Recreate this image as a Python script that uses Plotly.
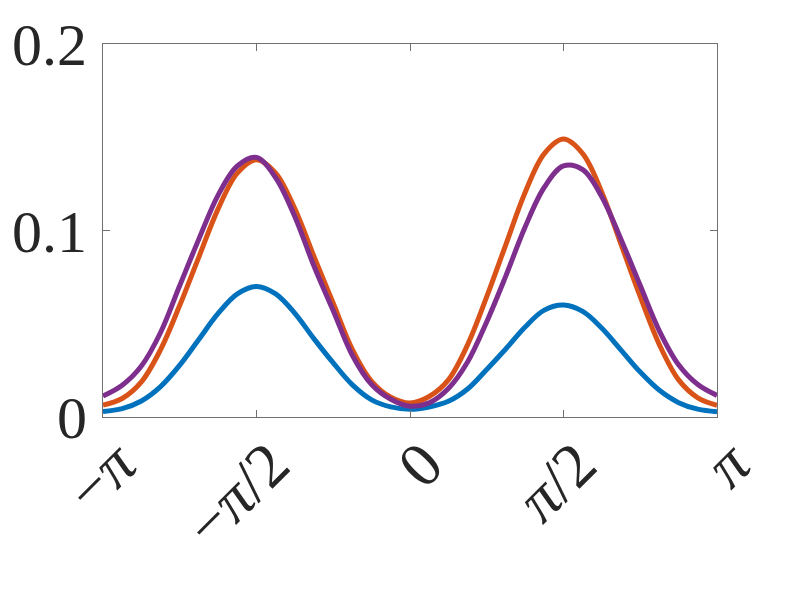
import numpy as np
import plotly.graph_objects as go

# x grid: -pi .. pi in steps of pi/16
x = np.linspace(-np.pi, np.pi, 33)

blue = [0.0030, 0.0045, 0.0086, 0.0163, 0.0278, 0.0417, 0.0555, 0.0660, 0.0700,
        0.0660, 0.0556, 0.0419, 0.0290, 0.0172, 0.0092, 0.0054, 0.0042,
        0.0054, 0.0084, 0.0150, 0.0255, 0.0366, 0.0483, 0.0573, 0.0600,
        0.0566, 0.0476, 0.0359, 0.0241, 0.0143, 0.0077, 0.0042, 0.0028]

orange = [0.0064, 0.0099, 0.0188, 0.0361, 0.0599, 0.0859, 0.1116, 0.1308, 0.1380,
          0.1308, 0.1116, 0.0859, 0.0610, 0.0361, 0.0191, 0.0106, 0.0075,
          0.0110, 0.0199, 0.0387, 0.0645, 0.0926, 0.1204, 0.1412, 0.1490,
          0.1412, 0.1204, 0.0926, 0.0645, 0.0387, 0.0199, 0.0103, 0.0063]

purple = [0.0112, 0.0170, 0.0273, 0.0453, 0.0705, 0.0955, 0.1190, 0.1346, 0.1392,
          0.1283, 0.1074, 0.0808, 0.0570, 0.0330, 0.0174, 0.0095, 0.0058,
          0.0076, 0.0153, 0.0295, 0.0511, 0.0758, 0.1019, 0.1232, 0.1346,
          0.1326, 0.1180, 0.0952, 0.0705, 0.0461, 0.0280, 0.0174, 0.0116]

xtick_vals = [-np.pi, -np.pi / 2, 0, np.pi / 2, np.pi]
xtick_text = ["\u2212<i>\u03c0</i>", "\u2212<i>\u03c0</i>/2", "0", "<i>\u03c0</i>/2", "<i>\u03c0</i>"]
ytick_vals = [0, 0.1, 0.2]
ytick_text = ["0", "0.1", "0.2"]

colors = ["#0072BD", "#D95319", "#7E2F8E"]

fig = go.Figure()
for ys, c in zip([blue, orange, purple], colors):
    fig.add_trace(go.Scatter(x=x, y=ys, mode="lines",
                             line=dict(color=c, width=5, shape="spline", smoothing=1),
                             showlegend=False, hoverinfo="skip"))

axis_style = dict(showline=True, linecolor="#707070", linewidth=1, mirror="ticks",
                  ticks="inside", ticklen=7, tickcolor="#707070", tickwidth=1,
                  showgrid=False, zeroline=False, automargin=False)

fig.update_xaxes(range=[-np.pi, np.pi], tickvals=xtick_vals, ticktext=xtick_text,
                 tickangle=-45, ticklabelshift=14, ticklabelstandoff=-16, **axis_style)
fig.update_yaxes(range=[0, 0.2], tickvals=ytick_vals, ticktext=ytick_text,
                 ticklabelstandoff=3, tickfont=dict(size=60), **axis_style)

# page body has an 8px margin, so the figure is sized to fit inside it
fig.update_layout(
    width=785, height=587,
    margin=dict(l=95, r=76, t=36, b=178, autoexpand=False),
    paper_bgcolor="white", plot_bgcolor="white",
    font=dict(family="Liberation Serif, DejaVu Serif, serif", size=63, color="#262626"),
)

fig.write_html("out.html")
